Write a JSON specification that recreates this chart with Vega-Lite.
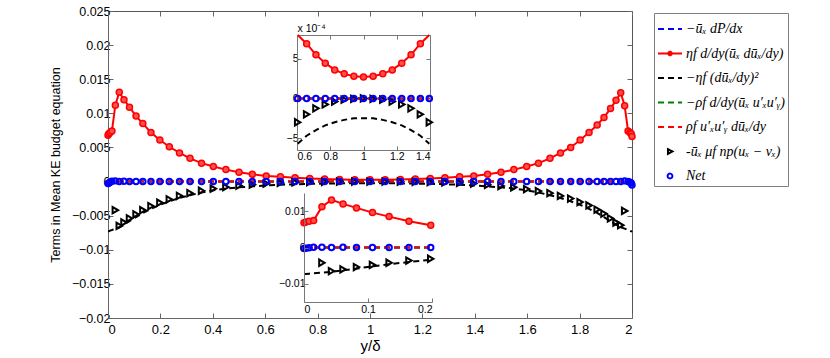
{
"$schema": "https://vega.github.io/schema/vega-lite/v6.json",
"width": 524, "height": 307,
"autosize": {"type": "none"},
"padding": {"left": 108, "top": 11, "right": 198, "bottom": 40},
"background": "white",
"config": {
  "view": {"stroke": "#555", "strokeWidth": 1},
  "axis": {"labelFont": "Liberation Sans", "titleFont": "Liberation Sans", "labelColor": "#000", "titleColor": "#000", "domainColor": "#666", "tickColor": "#666", "grid": false, "titleFontWeight": "normal"}
},
"datasets": {"d": [
{"x":0,"a":0,"b":0.0068,"c":-0.0073,"d":0,"e":0,"f":null,"g":-0.0003},
{"x":0.003,"a":0,"b":0.0070,"c":-0.0073,"d":0,"e":0,"f":null,"g":-0.0002},
{"x":0.008,"a":0,"b":0.0072,"c":-0.0072,"d":0,"e":0,"f":null,"g":-0.0001},
{"x":0.015,"a":0,"b":0.0074,"c":-0.0071,"d":0,"e":0,"f":null,"g":0.00005},
{"x":0.028,"a":0,"b":0.0112,"c":-0.0069,"d":0,"e":0,"f":-0.0042,"g":0.0001},
{"x":0.043,"a":0,"b":0.0131,"c":-0.0067,"d":0,"e":0,"f":-0.0065,"g":0},
{"x":0.061,"a":0,"b":0.0120,"c":-0.0063,"d":0,"e":0,"f":-0.0060,"g":0.00004},
{"x":0.082,"a":0,"b":0.0109,"c":-0.0058,"d":0,"e":0,"f":-0.0054,"g":0},
{"x":0.107,"a":0,"b":0.0096,"c":-0.0052,"d":0,"e":0,"f":-0.0048,"g":0},
{"x":0.133,"a":0,"b":0.0085,"c":-0.0046,"d":0,"e":0,"f":-0.0042,"g":0},
{"x":0.164,"a":0,"b":0.0072,"c":-0.0040,"d":0,"e":0,"f":-0.0036,"g":0},
{"x":0.198,"a":0,"b":0.0061,"c":-0.0034,"d":0,"e":0,"f":-0.0031,"g":0},
{"x":0.234,"a":0,"b":0.0051,"c":-0.0029,"d":0,"e":0,"f":-0.0026,"g":0},
{"x":0.273,"a":0,"b":0.0042,"c":-0.0024,"d":0,"e":0,"f":-0.0021,"g":0},
{"x":0.313,"a":0,"b":0.0034,"c":-0.0020,"d":0,"e":0,"f":-0.0017,"g":0},
{"x":0.357,"a":0,"b":0.0027,"c":-0.0016,"d":0,"e":0,"f":-0.00135,"g":0},
{"x":0.402,"a":0,"b":0.0022,"c":-0.00128,"d":0,"e":0,"f":-0.00105,"g":0},
{"x":0.45,"a":0,"b":0.00175,"c":-0.00103,"d":0,"e":0,"f":-0.0008,"g":0},
{"x":0.5,"a":0,"b":0.00137,"c":-0.00085,"d":0,"e":0,"f":-0.0006,"g":0},
{"x":0.551,"a":0,"b":0.00107,"c":-0.0007,"d":0,"e":0,"f":-0.00045,"g":0},
{"x":0.604,"a":0,"b":0.00083,"c":-0.00057,"d":0,"e":0,"f":-0.0003,"g":0},
{"x":0.658,"a":0,"b":0.00069,"c":-0.00047,"d":0,"e":0,"f":-0.0002,"g":0},
{"x":0.714,"a":0,"b":0.00055,"c":-0.0004,"d":0,"e":0,"f":-0.000125,"g":0},
{"x":0.77,"a":0,"b":0.000445,"c":-0.00034,"d":0,"e":0,"f":-0.000075,"g":0},
{"x":0.827,"a":0,"b":0.00036,"c":-0.0003,"d":0,"e":0,"f":-0.00004,"g":0},
{"x":0.884,"a":0,"b":0.00031,"c":-0.00027,"d":0,"e":0,"f":-0.000015,"g":0},
{"x":0.942,"a":0,"b":0.00028,"c":-0.00025,"d":0,"e":0,"f":-0.000005,"g":0},
{"x":1.0,"a":0,"b":0.00027,"c":-0.00025,"d":0,"e":0,"f":0,"g":0},
{"x":1.058,"a":0,"b":0.00028,"c":-0.00025,"d":0,"e":0,"f":-0.000005,"g":0},
{"x":1.116,"a":0,"b":0.00031,"c":-0.00027,"d":0,"e":0,"f":-0.000015,"g":0},
{"x":1.173,"a":0,"b":0.00036,"c":-0.0003,"d":0,"e":0,"f":-0.00004,"g":0},
{"x":1.23,"a":0,"b":0.000445,"c":-0.00034,"d":0,"e":0,"f":-0.000075,"g":0},
{"x":1.286,"a":0,"b":0.00055,"c":-0.0004,"d":0,"e":0,"f":-0.000125,"g":0},
{"x":1.342,"a":0,"b":0.00069,"c":-0.00047,"d":0,"e":0,"f":-0.0002,"g":0},
{"x":1.396,"a":0,"b":0.00083,"c":-0.00057,"d":0,"e":0,"f":-0.0003,"g":0},
{"x":1.449,"a":0,"b":0.00107,"c":-0.0007,"d":0,"e":0,"f":-0.00047,"g":0},
{"x":1.5,"a":0,"b":0.00135,"c":-0.00085,"d":0,"e":0,"f":-0.00065,"g":0},
{"x":1.549,"a":0,"b":0.00175,"c":-0.00103,"d":0,"e":0,"f":-0.00085,"g":0},
{"x":1.598,"a":0,"b":0.0022,"c":-0.00128,"d":0,"e":0,"f":-0.0011,"g":0},
{"x":1.643,"a":0,"b":0.0027,"c":-0.0016,"d":0,"e":0,"f":-0.0014,"g":0},
{"x":1.687,"a":0,"b":0.0034,"c":-0.0020,"d":0,"e":0,"f":-0.0017,"g":0},
{"x":1.727,"a":0,"b":0.0042,"c":-0.0024,"d":0,"e":0,"f":-0.0021,"g":0},
{"x":1.766,"a":0,"b":0.0050,"c":-0.0029,"d":0,"e":0,"f":-0.0025,"g":0},
{"x":1.802,"a":0,"b":0.0061,"c":-0.0034,"d":0,"e":0,"f":-0.0030,"g":0},
{"x":1.836,"a":0,"b":0.0072,"c":-0.0040,"d":0,"e":0,"f":-0.0035,"g":0},
{"x":1.867,"a":0,"b":0.0083,"c":-0.0046,"d":0,"e":0,"f":-0.0041,"g":0},
{"x":1.893,"a":0,"b":0.0094,"c":-0.0052,"d":0,"e":0,"f":-0.0047,"g":0},
{"x":1.918,"a":0,"b":0.0107,"c":-0.0058,"d":0,"e":0,"f":-0.0054,"g":0},
{"x":1.939,"a":0,"b":0.0119,"c":-0.0063,"d":0,"e":0,"f":-0.0060,"g":0},
{"x":1.957,"a":0,"b":0.0130,"c":-0.0067,"d":0,"e":0,"f":-0.0064,"g":0},
{"x":1.972,"a":0,"b":0.0111,"c":-0.0069,"d":0,"e":0,"f":-0.0043,"g":0.0001},
{"x":1.985,"a":0,"b":0.0074,"c":-0.0071,"d":0,"e":0,"f":null,"g":0},
{"x":1.992,"a":0,"b":0.0072,"c":-0.0072,"d":0,"e":0,"f":null,"g":-0.0001},
{"x":1.997,"a":0,"b":0.0070,"c":-0.0073,"d":0,"e":0,"f":null,"g":-0.0002},
{"x":2.0,"a":0,"b":0.0066,"c":-0.0072,"d":0,"e":0,"f":null,"g":-0.0005}
]},
"layer": [
{
  "data": {"name": "d"},
  "transform": [{"fold": ["a","b","c","d","e","f","g"], "as": ["s","v"]}],
  "encoding": {
    "x": {"field": "x", "type": "quantitative", "scale": {"domain": [0, 2], "nice": false, "zero": false},
      "axis": {"orient": "bottom", "values": [0,0.2,0.4,0.6,0.8,1,1.2,1.4,1.6,1.8,2], "format": "~g", "tickSize": -5, "labelFontSize": 13, "labelPadding": 10, "title": "y/δ", "titleFontSize": 15, "titleY": 27, "titleBaseline": "middle"}},
    "y": {"field": "v", "type": "quantitative", "scale": {"domain": [-0.02, 0.025], "nice": false, "zero": false},
      "axis": {"orient": "left", "values": [-0.02,-0.015,-0.01,-0.005,0,0.005,0.01,0.015,0.02,0.025], "format": "~g", "tickSize": -5, "labelFontSize": 12.5, "labelPadding": 3, "title": "Terms in Mean KE budget equation", "titleFontSize": 12.5, "titleX": -53, "titleY": 153.5, "titleBaseline": "middle", "titleAngle": -90}}
  },
  "layer": [
    {"transform": [{"filter": "datum.s == 'a'"}], "mark": {"type": "line", "color": "#0000ff", "strokeWidth": 2, "strokeDash": [6,4]}},
    {"transform": [{"filter": "datum.s == 'b'"}], "mark": {"type": "line", "color": "#ff0000", "strokeWidth": 2}},
    {"transform": [{"filter": "datum.s == 'b'"}], "mark": {"type": "point", "shape": "circle", "filled": true, "fill": "#ff5050", "stroke": "#ff0000", "strokeWidth": 1.5, "size": 36, "opacity": 1}},
    {"transform": [{"filter": "datum.s == 'c'"}], "mark": {"type": "line", "color": "#000000", "strokeWidth": 2, "strokeDash": [6,4]}},
    {"transform": [{"filter": "datum.s == 'd'"}], "mark": {"type": "line", "color": "#008000", "strokeWidth": 2, "strokeDash": [6,4]}},
    {"transform": [{"filter": "datum.s == 'e'"}], "mark": {"type": "line", "color": "#ff0000", "strokeWidth": 2, "strokeDash": [6,4]}},
    {"transform": [{"filter": "datum.s == 'f'"}], "mark": {"type": "point", "shape": "triangle-right", "filled": false, "color": "#000000", "strokeWidth": 2, "size": 40, "opacity": 1}},
    {"transform": [{"filter": "datum.s == 'g'"}], "mark": {"type": "point", "shape": "circle", "filled": false, "color": "#0000ff", "strokeWidth": 2, "size": 30, "opacity": 1}},
    {"data": {"values": []},
     "mark": {"type": "point", "filled": false, "opacity": 1, "strokeWidth": 2},
     "encoding": {
       "color": {"field": "s", "type": "nominal",
         "scale": {"domain": ["−ūₓ dP/dx", "ηf d/dy(ūₓ dūₓ/dy)", "−ηf (dūₓ/dy)²", "−ρf d/dy(ūₓ u′ₓu′ᵧ)", "ρf u′ₓu′ᵧ dūₓ/dy", "-ūₓ μf np(uₓ − vₓ)", "Net"],
                   "range": ["#0000ff", "#ff0000", "#000000", "#008000", "#ff0000", "#000000", "#0000ff"]},
         "legend": {"orient": "none", "legendX": 546, "legendY": 2, "title": null, "padding": 3, "strokeColor": "#808080", "fillColor": "white", "symbolSize": 576, "symbolStrokeWidth": 2, "labelFont": "Liberation Serif", "labelFontSize": 14, "labelFontStyle": "italic", "labelOffset": 3, "rowPadding": 4.5, "labelLimit": 300, "labelColor": "#000"}},
       "shape": {"field": "s", "type": "nominal",
         "scale": {"domain": ["−ūₓ dP/dx", "ηf d/dy(ūₓ dūₓ/dy)", "−ηf (dūₓ/dy)²", "−ρf d/dy(ūₓ u′ₓu′ᵧ)", "ρf u′ₓu′ᵧ dūₓ/dy", "-ūₓ μf np(uₓ − vₓ)", "Net"],
                   "range": ["M-1,0L1,0", "M-1,0L1,0M-0.15,0A0.15,0.15,0,1,1,0.15,0A0.15,0.15,0,1,1,-0.15,0", "M-1,0L1,0", "M-1,0L1,0", "M-1,0L1,0", "M-0.17,-0.2L0.2,0L-0.17,0.2Z", "M-0.2,0A0.2,0.2,0,1,1,0.2,0A0.2,0.2,0,1,1,-0.2,0"]},
         "legend": {"orient": "none", "legendX": 546, "legendY": 2, "title": null}},
       "strokeDash": {"field": "s", "type": "nominal",
         "scale": {"domain": ["−ūₓ dP/dx", "ηf d/dy(ūₓ dūₓ/dy)", "−ηf (dūₓ/dy)²", "−ρf d/dy(ūₓ u′ₓu′ᵧ)", "ρf u′ₓu′ᵧ dūₓ/dy", "-ūₓ μf np(uₓ − vₓ)", "Net"],
                   "range": [[6,4],[1,0],[6,4],[6,4],[6,4],[1,0],[1,0]]},
         "legend": {"orient": "none", "legendX": 546, "legendY": 2, "title": null}}
     }}
  ]
},
{
  "data": {"values": [{"x": 1, "y": 0}]},
  "mark": {"type": "point", "opacity": 0},
  "encoding": {
    "x": {"field": "x", "type": "quantitative", "scale": {"domain": [0, 2], "nice": false, "zero": false},
      "axis": {"orient": "top", "values": [0,0.2,0.4,0.6,0.8,1,1.2,1.4,1.6,1.8,2], "labels": false, "domain": false, "tickSize": -5, "title": null}},
    "y": {"field": "y", "type": "quantitative", "scale": {"domain": [-0.02, 0.025], "nice": false, "zero": false},
      "axis": {"orient": "right", "values": [-0.02,-0.015,-0.01,-0.005,0,0.005,0.01,0.015,0.02,0.025], "labels": false, "domain": false, "tickSize": -5, "title": null}}
  }
},
{
  "data": {"name": "d"},
  "transform": [{"filter": "datum.x >= 0.6 && datum.x <= 1.4"}, {"fold": ["a","b","c","d","e","f","g"], "as": ["s","v"]}],
  "encoding": {
    "x": {"field": "x", "type": "quantitative", "scale": {"domain": [0.6, 1.4], "range": [189, 322], "nice": false, "zero": false},
      "axis": {"orient": "bottom", "offset": -168, "values": [0.6,0.8,1,1.2,1.4], "format": "~g", "tickSize": -4, "labelFontSize": 10.5, "labelPadding": 5, "title": null, "domainColor": "#777", "tickColor": "#777"}},
    "y": {"field": "v", "type": "quantitative", "scale": {"domain": [-0.00065, 0.0008], "range": [139, 24], "nice": false, "zero": false, "clamp": true},
      "axis": {"orient": "left", "offset": -189, "values": [-0.0005, 0, 0.0005], "labelExpr": "format(datum.value*10000, '~g')", "tickSize": -4, "labelFontSize": 10.5, "labelPadding": 3, "title": "x 10⁻⁴", "titleAngle": 0, "titleX": 0, "titleY": 20, "titleAlign": "left", "titleBaseline": "alphabetic", "titleFontSize": 10.5, "domainColor": "#777", "tickColor": "#777"}}
  },
  "layer": [
    {"transform": [{"filter": "datum.s == 'a'"}], "mark": {"type": "line", "color": "#0000ff", "strokeWidth": 2, "strokeDash": [6,4]}},
    {"transform": [{"filter": "datum.s == 'b'"}], "mark": {"type": "line", "color": "#ff0000", "strokeWidth": 2}},
    {"transform": [{"filter": "datum.s == 'b' && datum.v <= 0.0008"}], "mark": {"type": "point", "shape": "circle", "filled": true, "fill": "#ff5050", "stroke": "#ff0000", "strokeWidth": 1.5, "size": 36, "opacity": 1}},
    {"transform": [{"filter": "datum.s == 'c'"}], "mark": {"type": "line", "color": "#000000", "strokeWidth": 2, "strokeDash": [6,4]}},
    {"transform": [{"filter": "datum.s == 'd'"}], "mark": {"type": "line", "color": "#008000", "strokeWidth": 2, "strokeDash": [6,4]}},
    {"transform": [{"filter": "datum.s == 'e'"}], "mark": {"type": "line", "color": "#ff0000", "strokeWidth": 2, "strokeDash": [6,4]}},
    {"transform": [{"filter": "datum.s == 'f'"}], "mark": {"type": "point", "shape": "triangle-right", "filled": false, "color": "#000000", "strokeWidth": 2, "size": 40, "opacity": 1}},
    {"transform": [{"filter": "datum.s == 'g'"}], "mark": {"type": "point", "shape": "circle", "filled": false, "color": "#0000ff", "strokeWidth": 2, "size": 30, "opacity": 1}}
  ]
},
{
  "data": {"values": [{"x": 1, "y": 0}]},
  "mark": {"type": "point", "opacity": 0},
  "encoding": {
    "x": {"field": "x", "type": "quantitative", "scale": {"domain": [0.6, 1.4], "range": [189, 322], "nice": false, "zero": false},
      "axis": {"orient": "top", "offset": -24, "values": [0.6,0.8,1,1.2,1.4], "labels": false, "tickSize": -4, "title": null, "domainColor": "#777", "tickColor": "#777"}},
    "y": {"field": "y", "type": "quantitative", "scale": {"domain": [-0.00065, 0.0008], "range": [139, 24], "nice": false, "zero": false},
      "axis": {"orient": "right", "offset": -202, "values": [-0.0005, 0, 0.0005], "labels": false, "tickSize": -4, "title": null, "domainColor": "#777", "tickColor": "#777"}}
  }
},
{
  "data": {"name": "d"},
  "transform": [{"filter": "datum.x <= 0.2"}, {"fold": ["a","b","c","d","e","f","g"], "as": ["s","v"]}],
  "encoding": {
    "x": {"field": "x", "type": "quantitative", "scale": {"domain": [0, 0.2], "range": [196, 324], "nice": false, "zero": false},
      "axis": {"orient": "bottom", "offset": -16, "values": [0, 0.1, 0.2], "format": "~g", "tickSize": -4, "labelFontSize": 10.5, "labelPadding": 6, "title": null, "zindex": 1, "domainColor": "#777", "tickColor": "#777"}},
    "y": {"field": "v", "type": "quantitative", "scale": {"domain": [-0.015, 0.015], "range": [291, 182], "nice": false, "zero": false, "clamp": true},
      "axis": {"orient": "left", "offset": -196, "values": [-0.01, 0, 0.01], "format": "~g", "tickSize": -4, "labelFontSize": 10.5, "labelPadding": 3, "title": null, "zindex": 1, "domainColor": "#777", "tickColor": "#777"}}
  },
  "layer": [
    {"data": {"values": [{"k": 1}]}, "mark": {"type": "rect", "fill": "white", "stroke": "#777", "strokeWidth": 1.2},
     "encoding": {"x": {"datum": 0}, "x2": {"datum": 0.2}, "y": {"datum": -0.015}, "y2": {"datum": 0.015}}},
    {"transform": [{"filter": "datum.s == 'a'"}], "mark": {"type": "line", "color": "#0000ff", "strokeWidth": 2, "strokeDash": [6,4]}},
    {"transform": [{"filter": "datum.s == 'b'"}], "mark": {"type": "line", "color": "#ff0000", "strokeWidth": 2}},
    {"transform": [{"filter": "datum.s == 'b'"}], "mark": {"type": "point", "shape": "circle", "filled": true, "fill": "#ff5050", "stroke": "#ff0000", "strokeWidth": 1.5, "size": 36, "opacity": 1}},
    {"transform": [{"filter": "datum.s == 'c'"}], "mark": {"type": "line", "color": "#000000", "strokeWidth": 2, "strokeDash": [6,4]}},
    {"transform": [{"filter": "datum.s == 'd'"}], "mark": {"type": "line", "color": "#008000", "strokeWidth": 2, "strokeDash": [6,4]}},
    {"transform": [{"filter": "datum.s == 'e'"}], "mark": {"type": "line", "color": "#ff0000", "strokeWidth": 2, "strokeDash": [6,4]}},
    {"transform": [{"filter": "datum.s == 'f'"}], "mark": {"type": "point", "shape": "triangle-right", "filled": false, "color": "#000000", "strokeWidth": 2, "size": 40, "opacity": 1}},
    {"transform": [{"filter": "datum.s == 'g'"}], "mark": {"type": "point", "shape": "circle", "filled": false, "color": "#0000ff", "strokeWidth": 2, "size": 30, "opacity": 1}}
  ]
}
],
"resolve": {"scale": {"x": "independent", "y": "independent"}, "axis": {"x": "independent", "y": "independent"}}
}
